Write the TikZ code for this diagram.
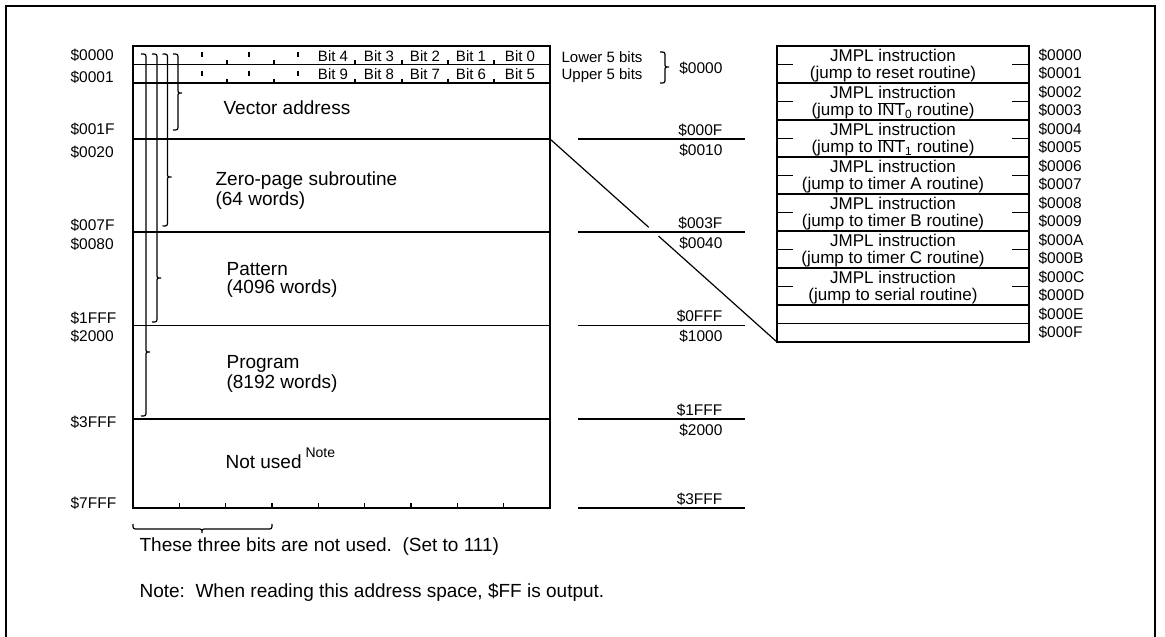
\documentclass[tikz,border=0pt]{standalone}
\usepackage{fontspec}
\setmainfont{Liberation Sans}
\usetikzlibrary{calc}

\newcommand{\intn}[1]{$\overline{\mbox{INT}}$\textsubscript{#1}}
\newcommand{\vbrace}[4]{\draw (#1-5,#2) .. controls (#1,#2) .. (#1,#2+5) -- (#1,#3-4) .. controls (#1,#3) .. (#1+4,#3) .. controls (#1,#3) .. (#1,#3+4) -- (#1,#4-5) .. controls (#1,#4) .. (#1-5,#4);}

\begin{document}
\begin{tikzpicture}[x=1pt, y=-1pt, line width=1.2pt,
    every node/.style={inner sep=0pt},
    addr/.style={font=\fontsize{15.5}{16}\selectfont},
    big/.style={font=\fontsize{19}{21}\selectfont, anchor=west},
    bitl/.style={font=\fontsize{15}{16}\selectfont},
    tbl/.style={font=\fontsize{17}{18}\selectfont}]
    \useasboundingbox (0,0) rectangle (1165,637);
    \draw (6,637) -- (6,6) -- (1155,6) -- (1155,637);

    % memory map
    \draw[line width=1.6pt] (133,46) rectangle (550,508);
    \foreach \y in {139,232,325.5,419} \draw[line width=1.6pt] (133,\y) -- (550,\y);
    \foreach \y in {64.5,83} \draw (133,\y) -- (550,\y);
    \foreach \r in {0,18.5} {
        \foreach \x in {202,249,298} \draw (\x,52+\r) -- (\x,57+\r);
        \foreach \x in {227,274,355,402,448,494} \draw (\x,60+\r) -- (\x,64.5+\r);
    }
    \foreach \x/\b/\c in {333/4/9,379/3/8,425/2/7,471/1/6,520/0/5} {
        \node[bitl] (b\b) at (\x,56) {Bit \b};
        \node[bitl] (b\c) at (\x,74.5) {Bit \c};
    }
    \foreach \k in {1,...,8} \draw (133+46.33*\k,508) -- (133+46.33*\k,503);

    \vbrace{146}{54}{352}{416}
    \vbrace{157}{54}{278}{322}
    \vbrace{167.5}{54}{177}{226}
    \vbrace{178}{54}{93}{130}

    \node[big] (vec) at (223,108) {Vector address};
    \node[big] (zp) at (215,181) {Zero-page subroutine};
    \node[big] (zpw) at (215,201) {(64 words)};
    \node[big] (pat) at (226,269) {Pattern};
    \node[big] (patw) at (226,289) {(4096 words)};
    \node[big] (prg) at (226,364) {Program};
    \node[big] (prgw) at (226,384) {(8192 words)};
    \node[big] (nu) at (225,462) {Not used};
    \node[anchor=west, font=\fontsize{14}{15}\selectfont] (nt) at (305,453) {Note};

    \foreach \y/\a in {55/0000,77/0001,129/001F,152/0020,225/007F,244/0080,318/1FFF,336/2000,422/3FFF,503/7FFF}
        \node[addr, anchor=west] (l\a) at (70,\y) {\$\a};

    % lower / upper bits
    \node[bitl, anchor=west] (lo) at (561,57) {Lower 5 bits};
    \node[bitl, anchor=west] (up) at (561,76) {Upper 5 bits};
    \vbrace{665}{52}{67}{83}
    \node[addr, anchor=east] (m0000) at (723,68) {\$0000};

    \foreach \y/\a/\b in {139/000F/0010,232/003F/0040,325.5/0FFF/1000,419/1FFF/2000} {
        \draw (578,\y) -- (745,\y);
        \node[addr, anchor=east] (ma\a) at (723,\y-9) {\$\a};
        \node[addr, anchor=east] (mb\b) at (723,\y+11) {\$\b};
    }
    \draw (578,508) -- (745,508);
    \node[addr, anchor=east] (m3FFF) at (723,499) {\$3FFF};

    % vector table
    \draw (777,46) rectangle (1029,342);
    \foreach \k in {1,...,7} \draw (777,46+37*\k) -- (1029,46+37*\k);
    \draw (777,323.5) -- (1029,323.5);
    \foreach \k in {0,...,6} {
        \draw (777,64.5+37*\k) -- (793,64.5+37*\k);
        \draw (1012,64.5+37*\k) -- (1029,64.5+37*\k);
    }
    \foreach \t [count=\k from 0] in {reset routine,\intn{0} routine,\intn{1} routine,timer A routine,timer B routine,timer C routine,serial routine} {
        \node[tbl] (j\k) at (893,55.25+37*\k) {JMPL instruction};
        \node[tbl] (t\k) at (893,73.75+37*\k) {(jump to \t)};
    }
    \foreach \h [count=\k from 0] in {0,1,2,3,4,5,6,7,8,9,A,B,C,D,E,F}
        \node[addr, anchor=west] (r\h) at (1038,55.25+18.5*\k) {\$000\h};

    \coordinate (cA) at (550,139);
    \coordinate (cB) at (777,342);
    \draw (cA) -- ($(cA)!0.435!(cB)$);
    \draw ($(cA)!0.478!(cB)$) -- (cB);

    % notes
    \draw (133,524) .. controls (133,529) .. (138,529) -- (197,529) .. controls (202,529) .. (202,533) .. controls (202,529) .. (207,529) -- (267,529) .. controls (272,529) .. (272,524);
    \node[big] (n1) at (139,547) {These three bits are not used.\ \ (Set to 111)};
    \node[big] (n2) at (139,592) {Note:\ \ When reading this address space, \$FF is output.};
\end{tikzpicture}
\end{document}
